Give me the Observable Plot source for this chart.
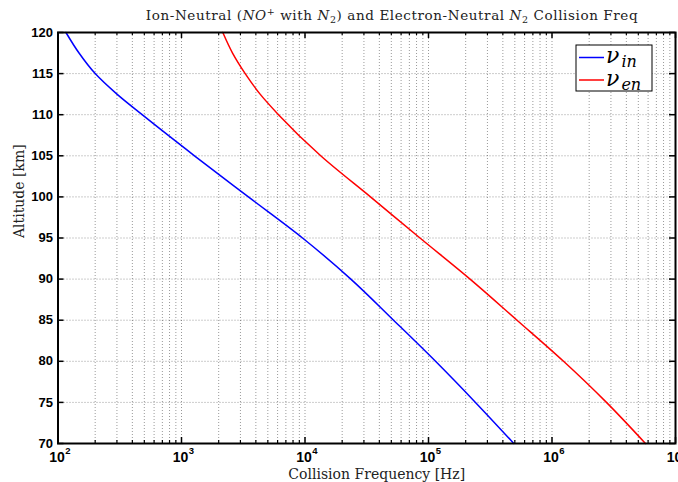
<!DOCTYPE html>
<html>
<head>
<meta charset="utf-8">
<script src="https://cdn.jsdelivr.net/npm/d3@7"></script>
<script src="https://cdn.jsdelivr.net/npm/@observablehq/plot@0.6"></script>
<style>
  html, body { margin: 0; padding: 0; background: #fff; overflow: hidden; }
  svg { overflow: hidden; }
</style>
</head>
<body>
<div id="chart"></div>
<script>
// ---- data ----
const altitude = [120, 117.5, 115, 112.5, 110, 105, 100, 95, 90, 85, 80, 75, 70];              // km
const nuIn = [116, 148, 200, 300, 480, 1274, 3480, 9550, 23500, 52100, 114000, 240000, 491000];        // Hz
const nuEn = [2160, 2590, 3280, 4330, 6100, 13400, 33900, 85300, 217000, 521000, 1240000, 2760000, 5710000]; // Hz
const xTickValues = [1e2, 1e3, 1e4, 1e5, 1e6, 1e7];
const xTickExponents = ["2", "3", "4", "5", "6", "7"];
const yTickValues = [70, 75, 80, 85, 90, 95, 100, 105, 110, 115, 120];
const seriesIds = ["in", "en"];
const seriesColors = ["#0000ff", "#ff0000"];

const rowsIn = altitude.map((a, i) => ({alt: a, freq: nuIn[i]}));
const rowsEn = altitude.map((a, i) => ({alt: a, freq: nuEn[i]}));

// minor log ticks 2..9 x 10^d
const xMinor = [];
for (let d = 2; d < 7; d++) for (let k = 2; k <= 9; k++) xMinor.push(k * 10 ** d);
const xGrid = xMinor.concat(xTickValues.slice(1, -1));
const yGrid = yTickValues.slice(1, -1);

const W = 678, H = 482, mL = 57.5, mR = 3, mT = 32, mB = 39;
const fw = W - mL - mR, fh = H - mT - mB;
const gridStyle = {stroke: "#000", strokeOpacity: 0.5, strokeDasharray: "1,2", strokeWidth: 0.8};
const tickFont = "'Liberation Sans', Arial, sans-serif";
const serif = "'DejaVu Serif', serif";

const chart = Plot.plot({
  width: W, height: H,
  marginLeft: mL, marginRight: mR, marginTop: mT, marginBottom: mB,
  x: {type: "log", domain: [1e2, 1e7], axis: null},
  y: {domain: [70, 120], axis: null},
  style: {fontFamily: tickFont, background: "#fff", overflow: "hidden"},
  marks: [
    Plot.ruleX(xGrid, {x: d => d, ...gridStyle}),
    Plot.ruleY(yGrid, {y: d => d, ...gridStyle}),
    Plot.line(rowsIn, {x: "freq", y: "alt", stroke: seriesColors[0], strokeWidth: 1.5, curve: "monotone-y"}),
    Plot.line(rowsEn, {x: "freq", y: "alt", stroke: seriesColors[1], strokeWidth: 1.5, curve: "monotone-y"}),
    // inward ticks
    Plot.ruleX(xTickValues, {x: d => d, insetTop: fh - 6, stroke: "#000", strokeWidth: 1.5}),
    Plot.ruleX(xTickValues, {x: d => d, insetBottom: fh - 6, stroke: "#000", strokeWidth: 1.5}),
    Plot.ruleX(xMinor, {x: d => d, insetTop: fh - 3, stroke: "#000", strokeWidth: 1.2}),
    Plot.ruleX(xMinor, {x: d => d, insetBottom: fh - 3, stroke: "#000", strokeWidth: 1.2}),
    Plot.ruleY(yTickValues, {y: d => d, insetRight: fw - 6, stroke: "#000", strokeWidth: 1.5}),
    Plot.ruleY(yTickValues, {y: d => d, insetLeft: fw - 6, stroke: "#000", strokeWidth: 1.5}),
    Plot.frame({stroke: "#000", strokeWidth: 2}),
    // y tick labels
    Plot.text(yTickValues, {y: d => d, text: d => String(d), frameAnchor: "left", textAnchor: "end", dx: -5,
      fontSize: 13, fontWeight: "bold", fill: "#000"}),
    // x tick labels "10" + exponent
    Plot.text(xTickValues, {x: d => d, text: () => "10", frameAnchor: "bottom", lineAnchor: "top", dy: 9, dx: -1,
      fontSize: 14, fontWeight: "bold", fill: "#000"}),
    Plot.text(xTickValues, {x: d => d, text: (d, i) => xTickExponents[i], frameAnchor: "bottom", lineAnchor: "top", dy: 4, dx: 10,
      fontSize: 9.5, fontWeight: "bold", fill: "#000"}),
    // axis labels
    Plot.text(["Collision Frequency [Hz]"], {text: d => d, frameAnchor: "bottom", lineAnchor: "bottom", dy: 35.5, dx: 10,
      fontFamily: serif, fontSize: 14, fill: "#222"}),
    Plot.text(["Altitude [km]"], {text: d => d, frameAnchor: "left", rotate: -90, dx: -38,
      fontFamily: serif, fontSize: 14, fill: "#222"})
  ]
});
document.getElementById("chart").appendChild(chart);

const svg = d3.select(chart);
// title with math tspans
const title = svg.append("text")
  .attr("x", 392).attr("y", 20).attr("text-anchor", "middle")
  .attr("font-family", serif).attr("font-size", 13.5).attr("letter-spacing", 0.6).attr("fill", "#222");
const parts = [
  ["Ion-Neutral (", null], ["NO", "i"], ["+", "sup"], [" with ", null], ["N", "i"], ["2", "sub"],
  [") and Electron-Neutral ", null], ["N", "i"], ["2", "sub"], [" Collision Freq", null]
];
parts.forEach(([t, k], i) => {
  const ts = title.append("tspan").text(t);
  const prev = i > 0 ? parts[i - 1][1] : null;
  let dy = 0;
  if (prev === "sup") dy += 5;
  if (prev === "sub") dy -= 3;
  if (k === "sup") dy -= 5;
  if (k === "sub") dy += 3;
  ts.attr("dy", dy);
  if (k === "i") ts.attr("font-style", "italic");
  if (k === "sup" || k === "sub") ts.attr("font-size", 9.5);
});

// legend
const lg = svg.append("g").attr("text-anchor", "start");
lg.append("rect").attr("x", 576).attr("y", 45).attr("width", 76).attr("height", 46)
  .attr("fill", "#fff").attr("stroke", "#000").attr("stroke-width", 1);
const legendRows = [{y: 57.5}, {y: 80}];
legendRows.forEach((r, i) => {
  lg.append("line").attr("x1", 579).attr("x2", 604).attr("y1", r.y).attr("y2", r.y)
    .attr("stroke", seriesColors[i]).attr("stroke-width", 1.5);
  const t = lg.append("text").attr("x", 606).attr("y", r.y + 5.5).attr("text-anchor", "start")
    .attr("font-family", serif).attr("font-style", "italic").attr("fill", "#000");
  t.append("tspan").attr("font-size", 22).text("ν");
  t.append("tspan").attr("font-size", 16).attr("dy", 4).attr("dx", 2).text(seriesIds[i]);
});
</script>
</body>
</html>
